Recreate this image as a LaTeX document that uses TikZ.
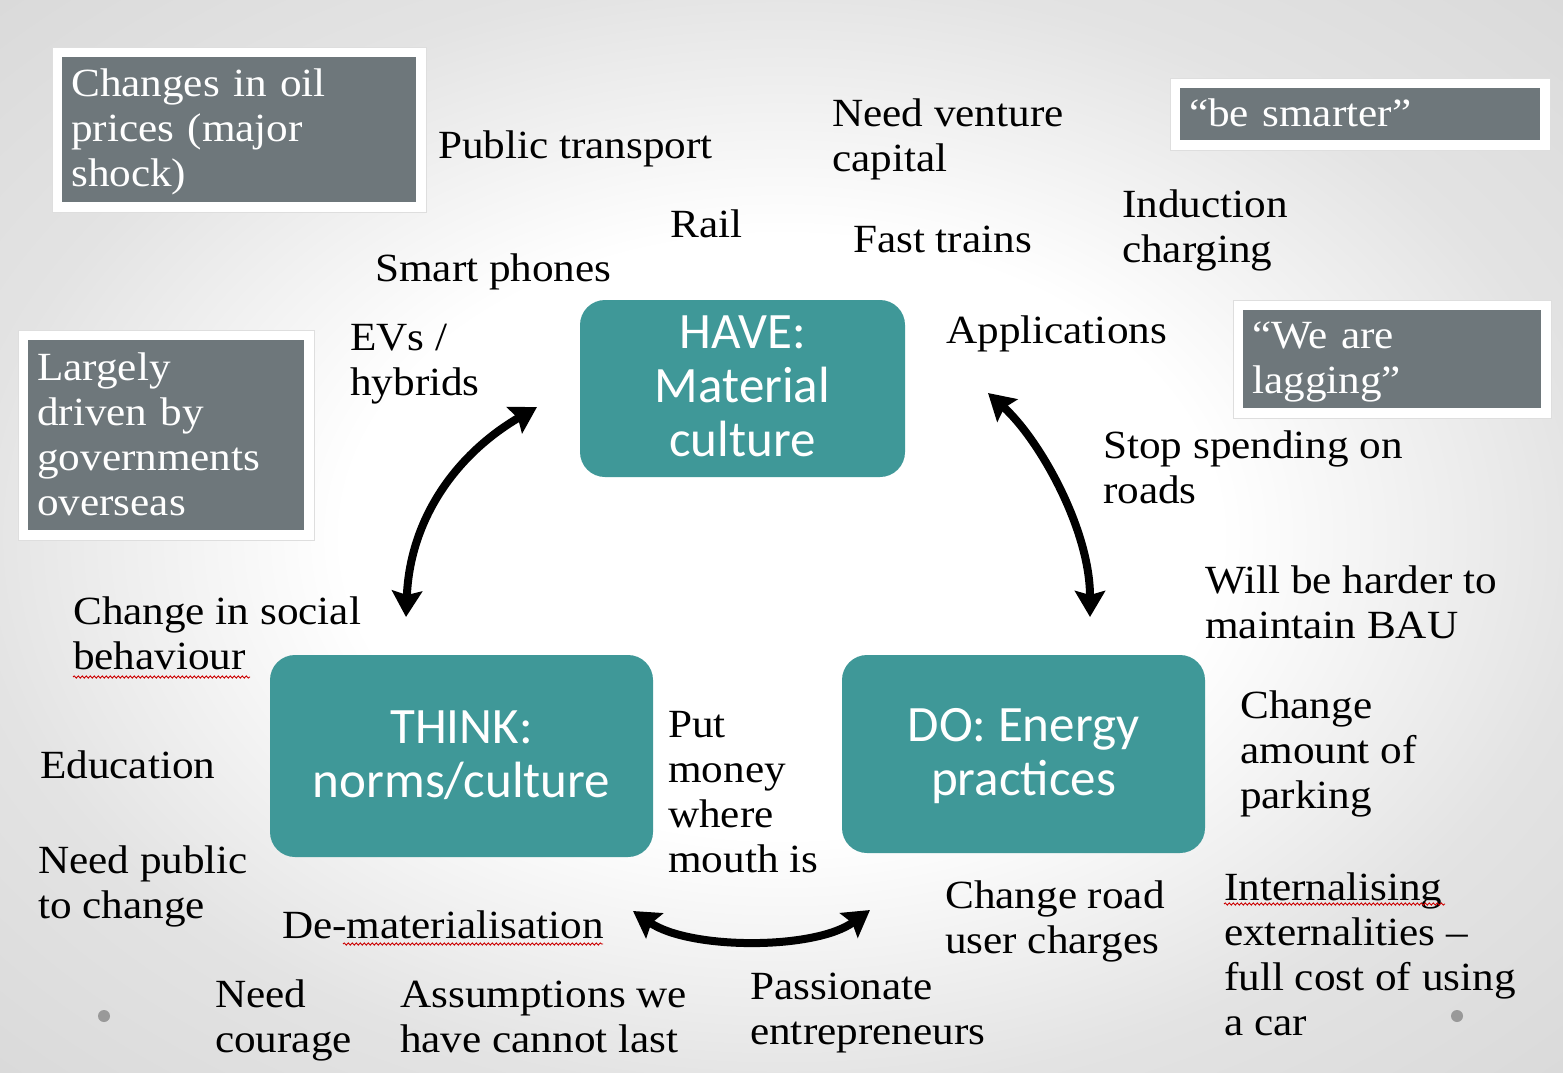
\documentclass[tikz,border=0pt]{standalone}
\usepackage{fontspec}
\setmainfont[FakeStretch=1.08]{Liberation Serif}
\newfontfamily\boxsans{Carlito}
\usetikzlibrary{arrows.meta,decorations.pathmorphing}
\definecolor{tealc}{HTML}{3F9898}
\definecolor{boxgray}{HTML}{6E777B}
\newcommand{\mystr}{\rule[-8pt]{0pt}{41pt}}
\newcommand{\serifsz}{\fontsize{40}{45}\selectfont}
\newcommand{\sanssz}{\boxsans\fontsize{51}{54}\selectfont}
\pgfdeclareradialshading{bgshade}{\pgfpoint{0bp}{0bp}}{color(0bp)=(white); color(14bp)=(white); color(26bp)=(black!11); color(50bp)=(black!20)}
\begin{document}
\begin{tikzpicture}[x=1pt,y=-1pt,
  lab/.style={anchor=north west, inner sep=0pt, align=left, font=\serifsz},
  gbox/.style={anchor=north west, fill=boxgray, text=white, align=left, font=\serifsz,
    inner xsep=9pt, inner ysep=0pt,
    preaction={draw=black!13, line width=21pt},
    preaction={draw=white, line width=19pt}},
  tbox/.style={fill=tealc, text=white, rounded corners=25pt, align=center, font=\sanssz, inner sep=0pt},
  arr/.style={line width=8pt, {Stealth[length=26pt,width=30pt,inset=4pt]}-{Stealth[length=26pt,width=30pt,inset=4pt]}},
  squig/.style={draw=red!80!black, line width=0.9pt, decorate, decoration={snake, amplitude=1.1pt, segment length=4pt}}
]
\useasboundingbox (0,0) rectangle (1563,1073);
\shade[shading=bgshade] (0,0) rectangle (1563,1073);

% gray boxes
\node[gbox, minimum width=354pt, minimum height=145pt, text width=336pt] (oil) at (62,57)
  {\mystr Changes in oil\\prices (major\\shock)\mystr};
\node[gbox, minimum width=276pt, minimum height=190pt, text width=258pt] (gov) at (28,340)
  {\mystr Largely\\driven by\\governments\\overseas\mystr};
\node[gbox, minimum width=360pt, minimum height=52pt, text width=342pt] (smarter) at (1180,88)
  {\mystr “be smarter”\mystr};
\node[gbox, minimum width=298pt, minimum height=98pt, text width=280pt] (lag) at (1243,310)
  {\mystr “We are\\lagging”\mystr};

% teal boxes
\node[tbox, minimum width=325pt, minimum height=177pt] (have) at (742.5,388.5)
  {\rule[-10pt]{0pt}{48pt}HAVE:\\Material\\culture\rule[-10pt]{0pt}{48pt}};
\node[tbox, minimum width=383pt, minimum height=202pt] (think) at (461.5,756)
  {\rule[-10pt]{0pt}{48pt}THINK:\\norms/culture\rule[-10pt]{0pt}{48pt}};
\node[tbox, minimum width=363pt, minimum height=198pt] (do) at (1023.5,754)
  {\rule[-10pt]{0pt}{48pt}DO: Energy\\practices\rule[-10pt]{0pt}{48pt}};

% labels
\node[lab] (pt) at (438,125) {\mystr Public transport};
\node[lab] (rail) at (670,204) {\mystr Rail};
\node[lab] (smart) at (375,248) {\mystr Smart phones};
\node[lab] (evs) at (350,317) {\mystr EVs /\\hybrids};
\node[lab] (venture) at (832,93) {\mystr Need venture\\capital};
\node[lab] (fast) at (853,219) {\mystr Fast trains};
\node[lab] (induct) at (1122,184) {\mystr Induction\\charging};
\node[lab] (apps) at (946,310) {\mystr Applications};
\node[lab] (stop) at (1103,425) {\mystr Stop spending on\\roads};
\node[lab] (will) at (1205,560) {\mystr Will be harder to\\maintain BAU};
\node[lab] (park) at (1240,685) {\mystr Change\\amount of\\parking};
\node[lab] (intern) at (1224,867) {\mystr Internalising\\externalities –\\full cost of using\\a car};
\node[lab] (road) at (945,875) {\mystr Change road\\user charges};
\node[lab] (pass) at (750,966) {\mystr Passionate\\entrepreneurs};
\node[lab] (assum) at (400,974) {\mystr Assumptions we\\have cannot last};
\node[lab] (courage) at (215,974) {\mystr Need\\courage};
\node[lab] (demat) at (282,905) {\mystr De-materialisation};
\node[lab] (publ) at (38,840) {\mystr Need public\\to change};
\node[lab] (edu) at (40,745) {\mystr Education};
\node[lab] (social) at (73,591) {\mystr Change in social\\behaviour};
\node[lab] (money) at (668,704) {\mystr Put\\money\\where\\mouth is};

% spell-check squiggles
\draw[squig] (73,677) -- (250,677);
\draw[squig] (343,944) -- (603,944);
\draw[squig] (1224,904) -- (1445,904);

% dots
\fill[black!40] (104,1016) circle (6pt);
\fill[black!40] (1457,1016) circle (6pt);

% arrows
\coordinate (l1) at (406,617);
\coordinate (l2) at (537,407);
\coordinate (r1) at (988,393);
\coordinate (r2) at (1090,617);
\coordinate (b1) at (633,911);
\coordinate (b2) at (870,910);
\draw[arr] (l1) .. controls (410,520) and (455,455) .. (l2);
\draw[arr] (r1) .. controls (1040,440) and (1090,530) .. (r2);
\draw[arr] (b1) .. controls (690,950) and (815,950) .. (b2);
\end{tikzpicture}
\end{document}
